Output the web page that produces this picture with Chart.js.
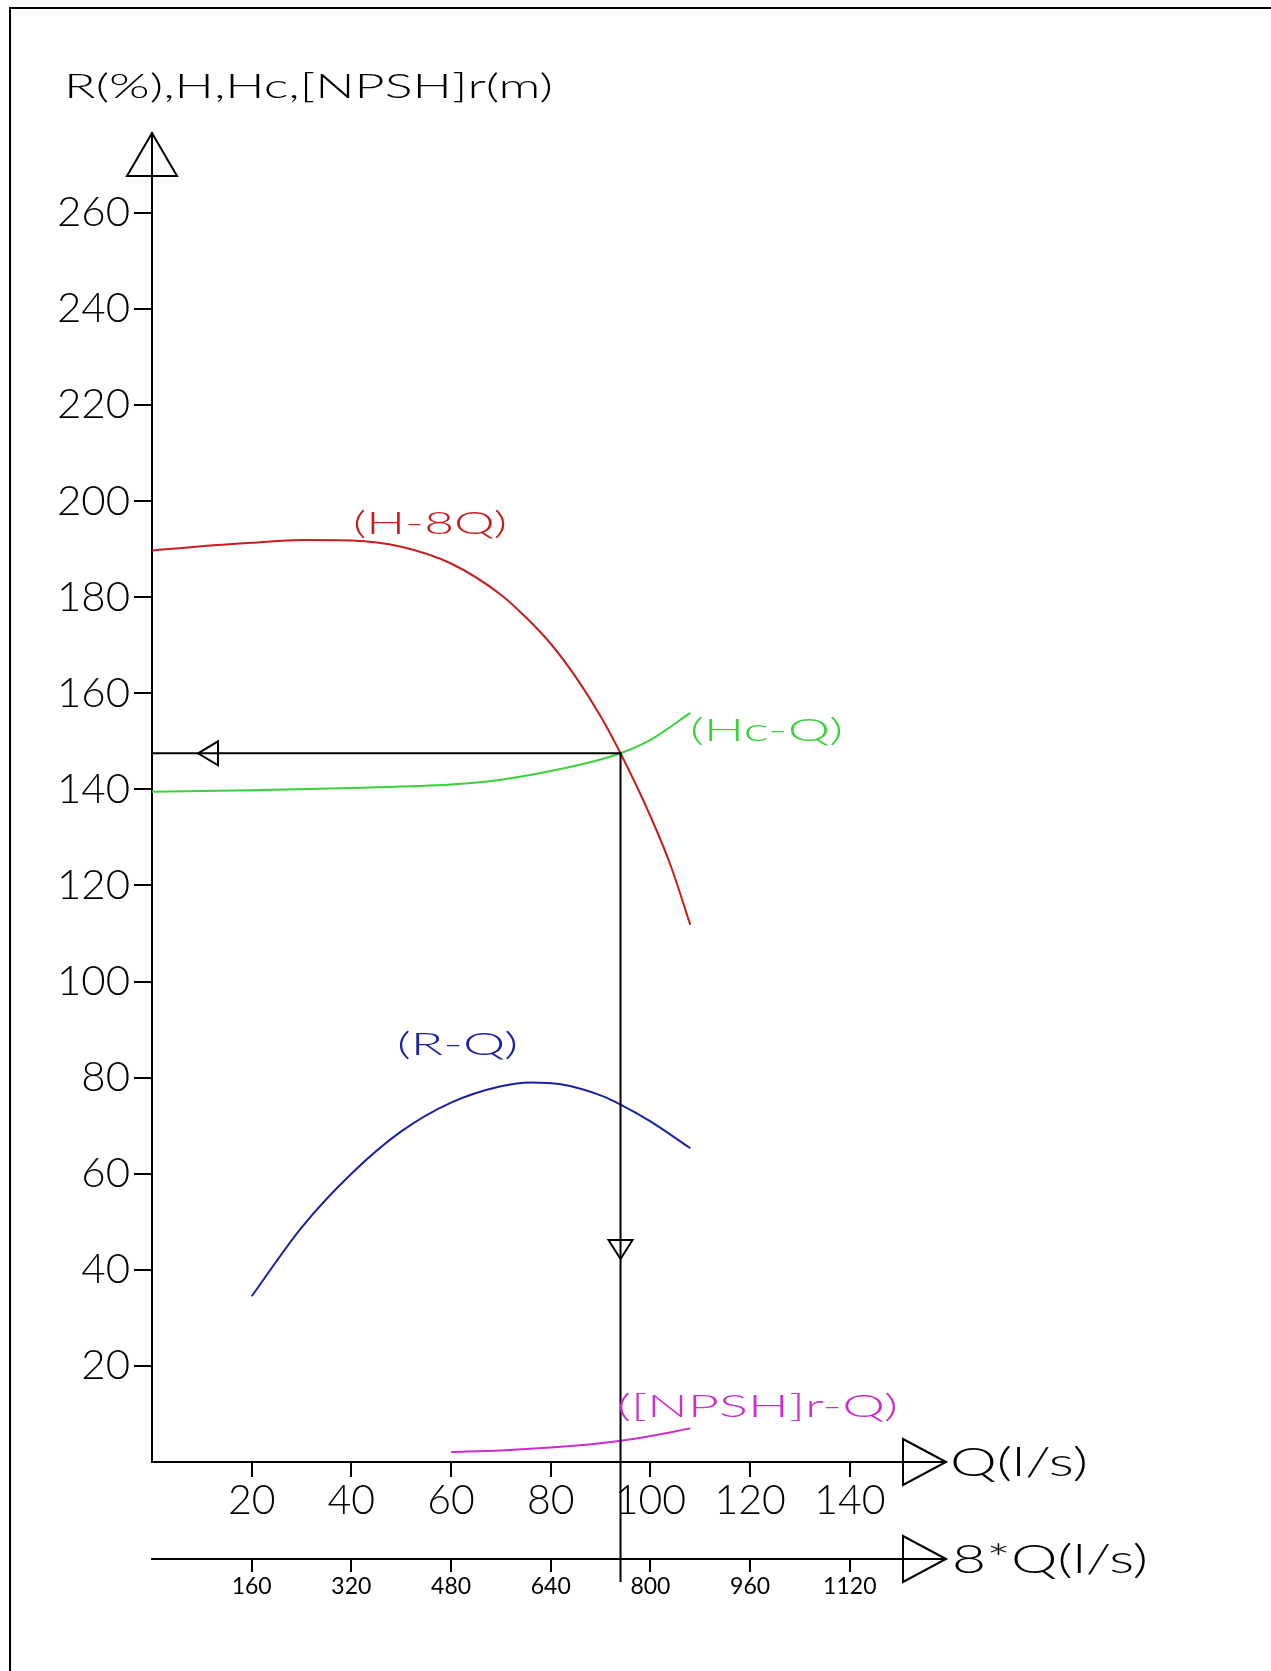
<!DOCTYPE html>
<html>
<head>
<meta charset="utf-8">
<title>Pump curves</title>
<script src="https://cdn.jsdelivr.net/npm/chart.js@4.4.1/dist/chart.umd.min.js"></script>
<style>
  html, body { margin: 0; padding: 0; background: #fff; }
  canvas { display: block; }
</style>
</head>
<body>
<canvas id="pumpChart" width="1271" height="1671"></canvas>
<script>
// axis ticks: flow Q (l/s), flow of 8 pumps, head / efficiency
const qTicks = [20, 40, 60, 80, 100, 120, 140];
const q8Ticks = [160, 320, 480, 640, 800, 960, 1120];
const headTicks = [20, 40, 60, 80, 100, 120, 140, 160, 180, 200, 220, 240, 260];

// H-8Q : pump head
const headQ = [0, 10, 20, 30, 40, 50, 60, 70, 75, 80, 85, 90, 94, 100, 104, 108];
const headH = [189.7, 190.6, 191.3, 191.9, 191.8, 190.5, 187.0, 180.5, 175.8, 170.3, 163.4, 155.2, 147.5, 134.4, 124.3, 111.8];

// Hc-Q : system curve
const sysQ = [0, 20, 40, 60, 70, 80, 90, 94, 100, 108];
const sysH = [139.5, 139.8, 140.3, 141.0, 142.0, 143.8, 146.2, 147.5, 150.3, 155.9];

// R-Q : efficiency (%)
const effQ = [20, 30, 40, 50, 60, 70, 76, 82, 90, 94, 100, 108];
const effR = [34.5, 48.8, 60.0, 68.8, 74.8, 78.2, 79.0, 78.6, 76.3, 74.4, 70.9, 65.3];

// [NPSH]r-Q
const npshQ = [60, 70, 80, 90, 94, 100, 108];
const npshH = [2.1, 2.4, 3.0, 3.9, 4.4, 5.4, 7.0];

// duty point
const dutyQ = 94;
const dutyH = 147.5;

const RED = '#c41e1e';
const GREEN = '#3ad23a';
const BLUE = '#1a20a8';
const MAGENTA = '#cc2ecc';
const FONT = 'Lato, "Noto Sans", sans-serif';

const pts = (xs, ys) => xs.map((x, i) => ({ x: x, y: ys[i] }));

function curve(data, color) {
  return {
    data: data,
    borderColor: color,
    borderWidth: 2,
    pointRadius: 0,
    fill: false,
    cubicInterpolationMode: 'monotone'
  };
}

// text stretched to a given box, so the wide plotter lettering keeps its size
function fitText(ctx, text, left, right, midY, capH, color) {
  const size = capH / 0.72;
  ctx.save();
  ctx.font = '300 ' + size + 'px ' + FONT;
  ctx.fillStyle = color;
  ctx.textAlign = 'left';
  ctx.textBaseline = 'alphabetic';
  const w = ctx.measureText(text).width;
  ctx.translate(left, midY + capH / 2);
  ctx.scale((right - left) / w, 1);
  ctx.fillText(text, 0, 0);
  ctx.restore();
}

function triangle(ctx, a, b, c) {
  ctx.beginPath();
  ctx.moveTo(a[0], a[1]);
  ctx.lineTo(b[0], b[1]);
  ctx.lineTo(c[0], c[1]);
  ctx.closePath();
  ctx.stroke();
}

const drawing = {
  id: 'drawing',
  beforeDraw(chart) {
    const ctx = chart.ctx;
    ctx.save();
    ctx.strokeStyle = '#000';
    ctx.lineWidth = 2;
    ctx.beginPath();
    ctx.moveTo(10, chart.height);
    ctx.lineTo(10, 8);
    ctx.lineTo(chart.width, 8);
    ctx.stroke();
    ctx.restore();
  },
  afterDatasetsDraw(chart) {
    const { ctx, scales: { x, y, x2 } } = chart;
    const px = x.getPixelForValue(dutyQ);
    const py = y.getPixelForValue(dutyH);
    ctx.save();
    ctx.strokeStyle = '#000';
    ctx.lineWidth = 2;
    ctx.beginPath();
    ctx.moveTo(x.left, py);
    ctx.lineTo(px, py);
    ctx.lineTo(px, x2.top + 23);
    ctx.stroke();
    // direction marks on the duty lines
    triangle(ctx, [x.left + 46, py], [x.left + 66, py - 12], [x.left + 66, py + 12]);
    const ay = y.bottom - 222;
    triangle(ctx, [px - 12, ay], [px + 12, ay], [px, ay + 19]);
    ctx.restore();
  },
  afterDraw(chart) {
    const { ctx, scales: { x, y, x2 } } = chart;
    ctx.save();
    ctx.strokeStyle = '#000';
    ctx.lineWidth = 2;
    // axis arrow heads
    triangle(ctx, [y.right, y.top], [y.right - 25, y.top + 43], [y.right + 25, y.top + 43]);
    triangle(ctx, [x.right, x.top], [x.right - 43, x.top - 23], [x.right - 43, x.top + 23]);
    triangle(ctx, [x2.right, x2.top], [x2.right - 43, x2.top - 23], [x2.right - 43, x2.top + 23]);
    ctx.restore();

    fitText(ctx, 'R(%),H,Hc,[NPSH]r(m)', 64, 553, 86, 24, '#000');
    fitText(ctx, 'Q(l/s)', 950, 1088, 1462, 28, '#000');
    fitText(ctx, '8*Q(l/s)', 952, 1148, 1559, 28, '#000');
    fitText(ctx, '(H-8Q)', 353, 507, 523, 22, RED);
    fitText(ctx, '(Hc-Q)', 690, 843, 730, 22, GREEN);
    fitText(ctx, '(R-Q)', 397, 518, 1044, 22, BLUE);
    fitText(ctx, '([NPSH]r-Q)', 617, 898, 1405, 23, MAGENTA);
  }
};

const axisGrid = len => ({
  drawOnChartArea: false,
  drawTicks: true,
  tickLength: len,
  color: '#000',
  lineWidth: 2
});
const axisBorder = { display: true, color: '#000', width: 2 };
const plain = v => String(v);

new Chart(document.getElementById('pumpChart'), {
  type: 'line',
  data: {
    datasets: [
      curve(pts(headQ, headH), RED),
      curve(pts(sysQ, sysH), GREEN),
      curve(pts(effQ, effR), BLUE),
      curve(pts(npshQ, npshH), MAGENTA)
    ]
  },
  options: {
    responsive: false,
    animation: false,
    layout: { padding: { left: 0, top: 133, right: 325, bottom: 52 } },
    plugins: { legend: { display: false }, tooltip: { enabled: false } },
    scales: {
      x: {
        type: 'linear',
        position: 'bottom',
        weight: 0,
        min: 0,
        max: 159.3,
        afterBuildTicks: s => { s.ticks = qTicks.map(v => ({ value: v })); },
        afterFit: s => { s.height = 97; },
        grid: axisGrid(15),
        border: axisBorder,
        ticks: {
          color: '#000',
          font: { family: FONT, size: 41, weight: '300', lineHeight: 1 },
          padding: 3,
          maxRotation: 0,
          autoSkip: false,
          callback: plain
        }
      },
      x2: {
        type: 'linear',
        position: 'bottom',
        weight: 1,
        min: 0,
        max: 159.3 * 8,
        afterBuildTicks: s => { s.ticks = q8Ticks.map(v => ({ value: v })); },
        afterFit: s => { s.height = 60; },
        grid: axisGrid(13),
        border: axisBorder,
        ticks: {
          color: '#000',
          font: { family: FONT, size: 23, weight: '400', lineHeight: 1 },
          padding: 3,
          maxRotation: 0,
          autoSkip: false,
          callback: plain
        }
      },
      y: {
        type: 'linear',
        position: 'left',
        min: 0,
        max: 276.6,
        afterBuildTicks: s => { s.ticks = headTicks.map(v => ({ value: v })); },
        afterFit: s => { s.width = 152; },
        grid: axisGrid(18),
        border: axisBorder,
        ticks: {
          color: '#000',
          font: { family: FONT, size: 42, weight: '300', lineHeight: 1 },
          padding: 4,
          autoSkip: false,
          callback: plain
        }
      }
    }
  },
  plugins: [drawing]
});
</script>
</body>
</html>
